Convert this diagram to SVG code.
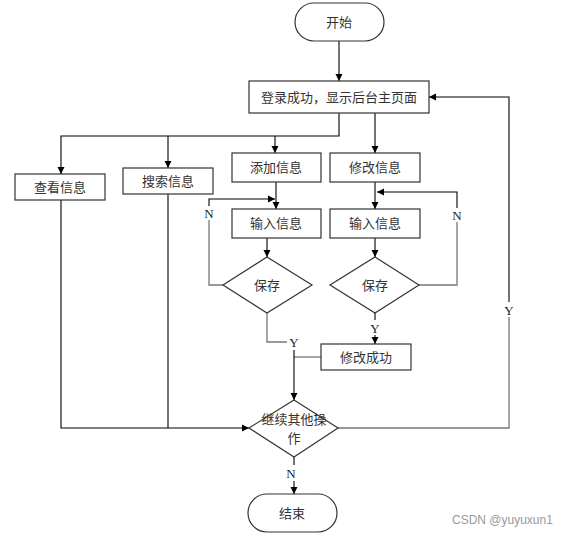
<svg xmlns="http://www.w3.org/2000/svg" width="576" height="536" viewBox="0 0 576 536">
<defs>
<marker id="ah" markerWidth="8" markerHeight="8" refX="7" refY="4" orient="auto" markerUnits="userSpaceOnUse">
<path d="M0,0.5 L7,4 L0,7.5 Z" fill="#000"/>
</marker>
</defs>
<style>
.box{fill:#fff;stroke:#333;stroke-width:1.2}
.t{font-family:"Liberation Serif","Noto Sans CJK SC",serif;font-size:13px;fill:#333;text-anchor:middle;dominant-baseline:central}
.l{font-family:"Liberation Serif",serif;font-size:13px;fill:#222;text-anchor:middle;dominant-baseline:central}
.c{fill:none;stroke:#000;stroke-width:1.1}
.g{fill:none;stroke:#777;stroke-width:1.3}
.wm{font-family:"Liberation Sans","Noto Sans",sans-serif;font-size:12px;fill:#999}
</style>
<rect width="576" height="536" fill="#fff"/>
<g id="connectors">
<path class="c" d="M339,41 V81" marker-end="url(#ah)"/>
<path class="c" d="M339,113 V136 H61 V174" marker-end="url(#ah)"/>
<path class="c" d="M168,136 V168" marker-end="url(#ah)"/>
<path class="c" d="M275,136 V153" marker-end="url(#ah)"/>
<path class="c" d="M375,113 V153" marker-end="url(#ah)"/>
<path class="c" d="M276,182 V209" marker-end="url(#ah)"/>
<path class="c" d="M375,182 V209" marker-end="url(#ah)"/>
<path class="c" d="M267,238 V257" marker-end="url(#ah)"/>
<path class="c" d="M375,238 V257" marker-end="url(#ah)"/>
<path class="g" d="M223,285 H209 V220"/>
<path class="c" d="M209,206 V199 H275" marker-end="url(#ah)"/>
<path class="g" d="M419,285 H457 V222"/>
<path class="c" d="M457,208 V192 H377" marker-end="url(#ah)"/>
<path class="g" d="M267,313 V342 H287"/>
<path class="c" d="M375,313 V320"/>
<path class="c" d="M375,335 V344" marker-end="url(#ah)"/>
<path class="g" d="M321,357 H294"/>
<path class="c" d="M294,350 V400" marker-end="url(#ah)"/>
<path class="c" d="M61,200 V428 H249" marker-end="url(#ah)"/>
<path class="c" d="M168,194 V428"/>
<path class="g" d="M338,428 H509 V317"/>
<path class="c" d="M509,302 V97 H429" marker-end="url(#ah)"/>
<path class="c" d="M294,457 V465"/>
<path class="c" d="M294,481 V494" marker-end="url(#ah)"/>
<text class="l" x="209" y="213">N</text>
<text class="l" x="457" y="215">N</text>
<text class="l" x="294" y="342">Y</text>
<text class="l" x="375" y="328">Y</text>
<text class="l" x="509" y="310">Y</text>
<text class="l" x="291" y="473">N</text>
</g>
<g id="start"><rect class="box" x="295" y="3" width="89" height="38" rx="19"/><text class="t" x="339" y="22">开始</text></g>
<g id="login"><rect class="box" x="249" y="81" width="180" height="32"/><text class="t" x="339" y="97">登录成功，显示后台主页面</text></g>
<g id="view"><rect class="box" x="15" y="174" width="90" height="26"/><text class="t" x="60" y="187">查看信息</text></g>
<g id="search"><rect class="box" x="123" y="168" width="90" height="26"/><text class="t" x="168" y="181">搜索信息</text></g>
<g id="add"><rect class="box" x="232" y="153" width="89" height="29"/><text class="t" x="276" y="167">添加信息</text></g>
<g id="modify"><rect class="box" x="330" y="153" width="90" height="29"/><text class="t" x="375" y="167">修改信息</text></g>
<g id="input1"><rect class="box" x="232" y="209" width="89" height="29"/><text class="t" x="276" y="223">输入信息</text></g>
<g id="input2"><rect class="box" x="330" y="209" width="90" height="29"/><text class="t" x="375" y="223">输入信息</text></g>
<g id="save1"><path class="box" d="M267,257 L312,285 L267,313 L223,285 Z"/><text class="t" x="267" y="285">保存</text></g>
<g id="save2"><path class="box" d="M375,257 L419,285 L375,313 L330,285 Z"/><text class="t" x="375" y="285">保存</text></g>
<g id="success"><rect class="box" x="321" y="344" width="90" height="26"/><text class="t" x="366" y="357">修改成功</text></g>
<g id="continue"><path class="box" d="M294,400 L338,428 L294,457 L249,428 Z"/><text class="t" x="294" y="419">继续其他操</text><text class="t" x="294" y="438">作</text></g>
<g id="end"><rect class="box" x="248" y="494" width="89" height="38" rx="19"/><text class="t" x="292" y="513">结束</text></g>
<text class="wm" x="452" y="524">CSDN @yuyuxun1</text>
</svg>
